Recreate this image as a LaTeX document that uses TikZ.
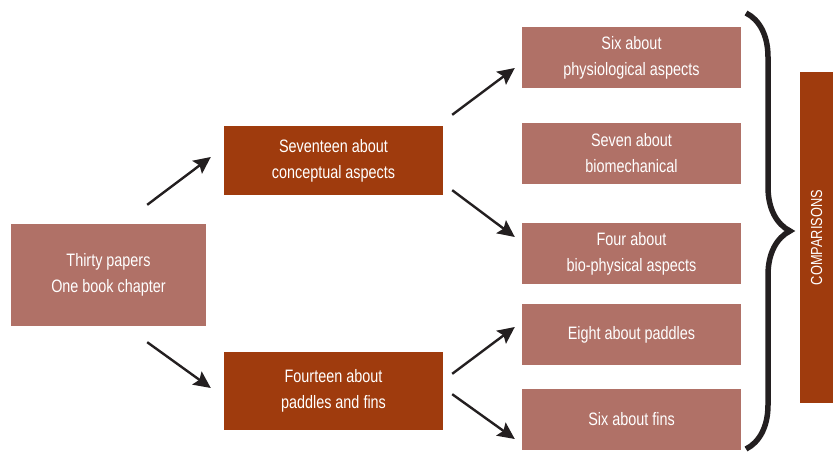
\documentclass[tikz,border=0pt]{standalone}
\usepackage{fontspec}
\setmainfont[FakeStretch=0.8]{Liberation Sans}
\usetikzlibrary{arrows.meta,calc,decorations.pathreplacing}
\definecolor{paleboxfill}{HTML}{B07167}
\definecolor{darkboxfill}{HTML}{9F3B0D}
\definecolor{inkline}{HTML}{231F20}
\tikzset{
    palebox/.style={fill=paleboxfill, text=white, align=center, inner sep=0pt,
        minimum width=219pt, minimum height=61pt, font=\fontsize{18}{26}\selectfont},
    darkbox/.style={palebox, fill=darkboxfill},
    flow/.style={draw=inkline, line width=2.4pt, -{Stealth[length=17pt,width=16pt,inset=3pt]}},
    bigbrace/.style={draw=inkline, line width=5.5pt, decorate,
        decoration={brace, amplitude=44pt}},
}
\begin{document}
\begin{tikzpicture}[x=1pt, y=-1pt]
    \useasboundingbox (0,0) rectangle (833,454);
    % left side
    \node[palebox, minimum width=195pt, minimum height=102pt] (root) at (108.5,275)
        {Thirty papers\\One book chapter};
    \node[darkbox, minimum height=69pt] (conceptual) at (333.5,160.5)
        {Seventeen about\\conceptual aspects};
    \node[darkbox, minimum height=78pt] (paddlesfins) at (333.5,391)
        {Fourteen about\\paddles and fins};
    % right column
    \node[palebox] (physio) at (631.5,58) {Six about\\physiological aspects};
    \node[palebox] (biomech) at (631.5,153.5) {Seven about\\biomechanical};
    \node[palebox] (biophys) at (631.5,254) {Four about\\bio-physical aspects};
    \node[palebox] (paddles) at (631.5,334.5) {Eight about paddles};
    \node[palebox] (fins) at (631.5,419) {Six about fins};
    \node[fill=darkboxfill, text=white, inner sep=0pt, rotate=90,
        minimum width=331pt, minimum height=33pt, font=\fontsize{16}{18}\selectfont]
        (compare) at (816.5,237.5) {COMPARISONS};
    % arrows
    \draw[flow] ($(root.north east)+(-59,-19)$) -- ($(conceptual.west)+(-13,-3.5)$);
    \draw[flow] ($(root.south east)+(-59,16)$) -- ($(paddlesfins.west)+(-13,-3)$);
    \draw[flow] ($(conceptual.north east)+(9,-11)$) -- ($(physio.west)+(-7,10)$);
    \draw[flow] ($(conceptual.south east)+(9,-5)$) -- ($(biophys.west)+(-7,-17)$);
    \draw[flow] ($(paddlesfins.north east)+(9,22)$) -- ($(paddles.west)+(-7,-7.5)$);
    \draw[flow] ($(paddlesfins.south east)+(9,-36)$) -- ($(fins.west)+(-7,20)$);
    % brace
    \draw[bigbrace] (746,13) -- (746,449);
\end{tikzpicture}
\end{document}
